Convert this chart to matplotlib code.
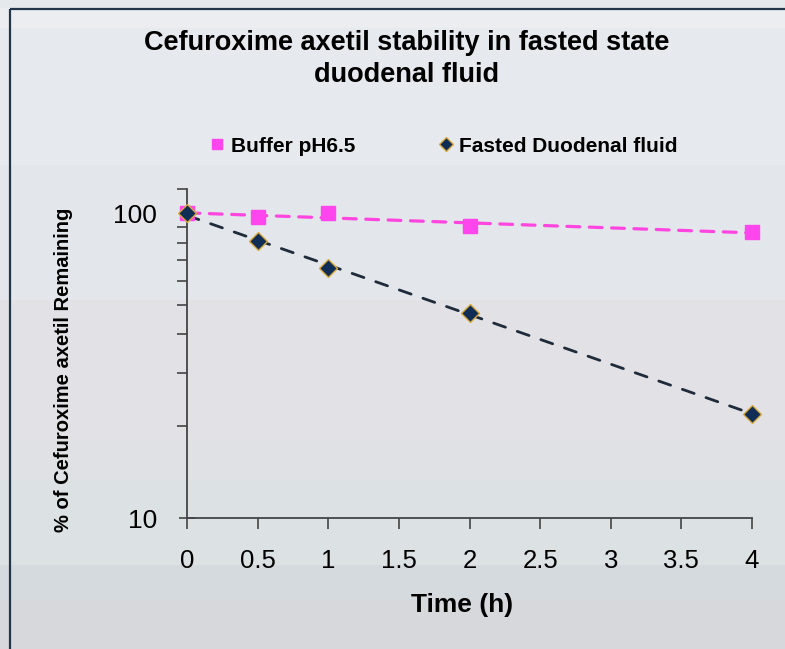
import matplotlib.pyplot as plt
import matplotlib.colors as mcolors
import numpy as np
from matplotlib.lines import Line2D

# data
time_h = [0, 0.5, 1, 2, 4]
buffer_ph65 = [100, 97, 100, 90.6, 86.6]
fasted_duodenal = [100, 81, 66, 47, 22]

x_ticks = [0, 0.5, 1, 1.5, 2, 2.5, 3, 3.5, 4]
x_tick_labels = ['0', '0.5', '1', '1.5', '2', '2.5', '3', '3.5', '4']

W, H = 785, 649
FONT = ['Liberation Sans', 'DejaVu Sans']
plt.rcParams['font.family'] = FONT

fig = plt.figure(figsize=(W / 100, H / 100), dpi=100)

# banded grey background, like the slide behind the chart
bands = [(0, '#e6e9ec'), (8, '#ecedf0'), (28, '#e6e9ed'), (165, '#e3e6ea'),
         (300, '#e2e2e6'), (440, '#dfe1e5'), (480, '#dce1e3'),
         (565, '#d5dade'), (600, '#d6d8dc')]
bg = np.zeros((H, 1, 3))
for i, (start, col) in enumerate(bands):
    stop = bands[i + 1][0] if i + 1 < len(bands) else H
    bg[start:stop, 0, :] = mcolors.to_rgb(col)
bg_ax = fig.add_axes([0, 0, 1, 1], zorder=-10)
bg_ax.imshow(bg, aspect='auto', extent=[0, 1, 0, 1], interpolation='nearest')
bg_ax.set_axis_off()

# chart frame (only left and top edges are visible)
fig.add_artist(Line2D([9.5 / W, 9.5 / W], [0, 1 - 8.5 / H], color='#22364a', lw=1.6,
                      solid_capstyle='butt'))
fig.add_artist(Line2D([9.5 / W, 1.0], [1 - 8.5 / H, 1 - 8.5 / H], color='#22364a', lw=1.6,
                      solid_capstyle='butt'))

ax = fig.add_axes([187 / W, 1 - 518 / H, (752 - 187) / W, (518 - 189) / H])
ax.set_facecolor('none')

# exponential trendlines
tt = np.linspace(0, 4, 50)
for vals, col, lw, ls in ((buffer_ph65, '#ff45e0', 2.3, (0, (4, 3))),
                          (fasted_duodenal, '#1f2b3a', 2.0, (0, (4.5, 4.5)))):
    k, b = np.polyfit(time_h, np.log(vals), 1)
    ax.plot(tt, np.exp(b + k * tt), color=col, lw=lw, linestyle=ls, zorder=2,
            dash_capstyle='round')

ax.plot(time_h, buffer_ph65, linestyle='none', marker='s', ms=9.5,
        color='#ff45ee', mec='#ff45ee', label='Buffer pH6.5', zorder=3, clip_on=False)
ax.plot(time_h, fasted_duodenal, linestyle='none', marker='D', ms=9,
        color='#0f2d55', mec='#d9aa3a', mew=1.0, label='Fasted Duodenal fluid',
        zorder=4, clip_on=False)

ax.set_yscale('log')
ax.set_xlim(0, 4)
ax.set_ylim(10, 120)
ax.set_yticks([10, 100])
ax.set_yticklabels(['10', '100'])
ax.set_yticks([20, 30, 40, 50, 60, 70, 80, 90, 120], minor=True)
ax.yaxis.set_minor_formatter(plt.NullFormatter())
ax.set_xticks(x_ticks)
ax.set_xticklabels(x_tick_labels)

for s in ('top', 'right'):
    ax.spines[s].set_visible(False)
for s in ('left', 'bottom'):
    ax.spines[s].set_color('#444444')
    ax.spines[s].set_linewidth(1.3)

ax.tick_params(axis='y', which='major', direction='inout', length=12, width=1.2,
               color='#444444', labelsize=19, pad=15.5)
ax.tick_params(axis='y', which='minor', direction='out', length=7, width=1.2, color='#444444')
ax.tick_params(axis='x', direction='out', length=8, width=1.2, color='#444444',
               labelsize=18.5, pad=14.5)

ax.set_xlabel('Time (h)', fontsize=19, fontweight='bold')
ax.xaxis.set_label_coords(0.487, -0.228)
ax.set_ylabel('% of Cefuroxime axetil Remaining', fontsize=14.5, fontweight='bold')
ax.yaxis.set_label_coords(-0.202, 0.45)

fig.text(407 / W, 1 - 59 / H, 'Cefuroxime axetil stability in fasted state\nduodenal fluid',
         ha='center', va='center', fontsize=19.5, fontweight='bold', linespacing=1.3)

fig.legend(loc='center', bbox_to_anchor=(444 / W, 1 - 146 / H), ncol=2, frameon=False,
           handlelength=0.7, handletextpad=0.3, columnspacing=4.0, markerscale=0.8,
           prop={'weight': 'bold', 'size': 15})

fig.savefig('out.png', dpi=100)
